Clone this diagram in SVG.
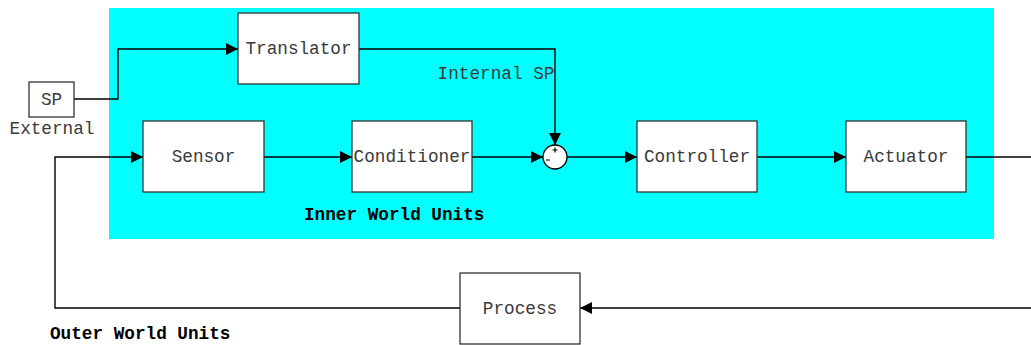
<svg xmlns="http://www.w3.org/2000/svg" width="1031" height="345" viewBox="0 0 1031 345">
<style>
.box{fill:#fff;stroke:#333;stroke-width:1.3}
.t{font-family:"Liberation Mono","Courier New",monospace;font-size:17.7px;fill:#3a3a3a;text-anchor:middle}
.b{font-family:"Liberation Mono","Courier New",monospace;font-size:17.7px;font-weight:bold;fill:#000}
.c{fill:none;stroke:#000;stroke-width:1.4}
</style>
<defs>
<marker id="ah" viewBox="0 0 12 12" refX="12" refY="6" markerWidth="12" markerHeight="12" markerUnits="userSpaceOnUse" orient="auto">
<path d="M0,0 L12,6 L0,12 Z" fill="#000"/>
</marker>
</defs>
<rect x="109" y="8" width="885" height="231" fill="#00ffff"/>
<text class="b" x="304" y="220">Inner World Units</text>
<text class="b" x="50" y="339">Outer World Units</text>
<g id="connectors">
<path class="c" d="M74,99 H118 V49 H238" marker-end="url(#ah)"/>
<path class="c" d="M359,49 H555 V145" marker-end="url(#ah)"/>
<path class="c" d="M264,157 H352" marker-end="url(#ah)"/>
<path class="c" d="M472,157 H543" marker-end="url(#ah)"/>
<path class="c" d="M567,157 H637" marker-end="url(#ah)"/>
<path class="c" d="M757,157 H846" marker-end="url(#ah)"/>
<path class="c" d="M966,157 H1035"/>
<path class="c" d="M1035,308 H580" marker-end="url(#ah)"/>
<path class="c" d="M460,308 H55 V157 H143" marker-end="url(#ah)"/>
<text class="t" x="496" y="79">Internal SP</text>
</g>
<g id="sp">
<rect class="box" x="29" y="82" width="45" height="35"/>
<text class="t" x="51.5" y="105">SP</text>
<text class="t" x="52" y="134">External</text>
</g>
<g id="translator">
<rect class="box" x="238" y="13" width="121" height="71"/>
<text class="t" x="298.5" y="54">Translator</text>
</g>
<g id="sensor">
<rect class="box" x="143" y="121" width="121" height="71"/>
<text class="t" x="203.5" y="162">Sensor</text>
</g>
<g id="conditioner">
<rect class="box" x="352" y="121" width="120" height="71"/>
<text class="t" x="412" y="162">Conditioner</text>
</g>
<g id="sum">
<circle cx="555" cy="157" r="12" fill="#fff" stroke="#000" stroke-width="1.3"/>
<path d="M552.5,150 H557.5 M555,147.5 V152.5 M546,160 H550" stroke="#000" stroke-width="1.2"/>
</g>
<g id="controller">
<rect class="box" x="637" y="121" width="120" height="71"/>
<text class="t" x="697" y="162">Controller</text>
</g>
<g id="actuator">
<rect class="box" x="846" y="121" width="120" height="71"/>
<text class="t" x="906" y="162">Actuator</text>
</g>
<g id="process">
<rect class="box" x="460" y="273" width="120" height="71"/>
<text class="t" x="520" y="314">Process</text>
</g>
</svg>
